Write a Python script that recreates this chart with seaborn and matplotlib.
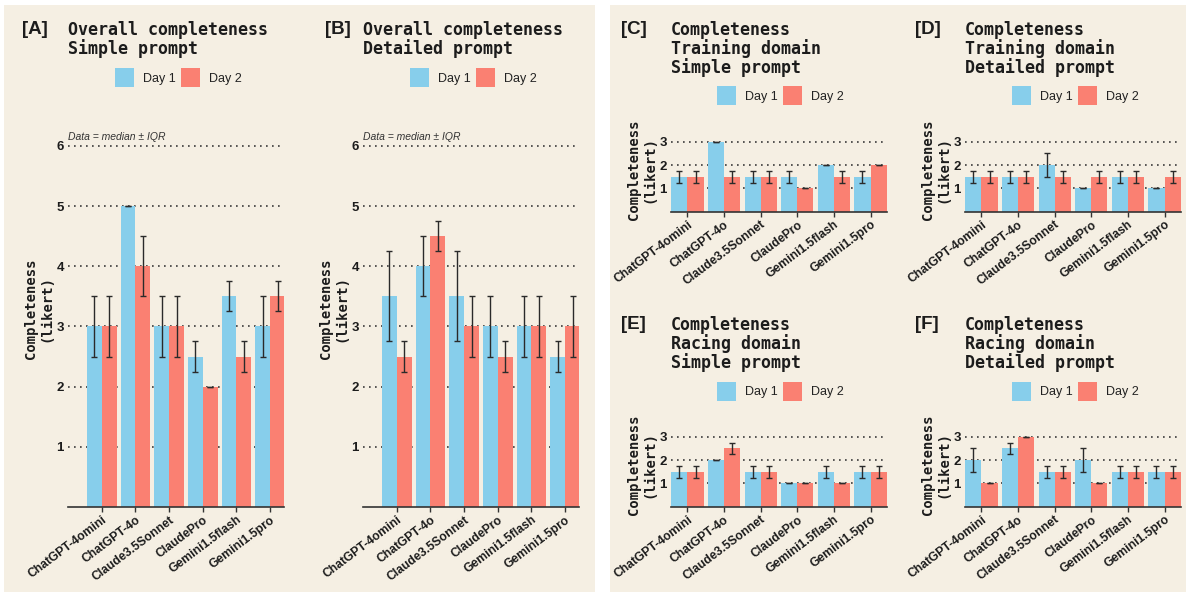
import matplotlib
matplotlib.use("Agg")
import matplotlib.pyplot as plt
from matplotlib.patches import Rectangle
import pandas as pd
import seaborn as sns

# ---- data: median and half-IQR per model, per day ----
models = ["ChatGPT-4omini", "ChatGPT-4o", "Claude3.5Sonnet",
          "ClaudePro", "Gemini1.5flash", "Gemini1.5pro"]
days = ["Day 1", "Day 2"]

a_day1 = [3, 5, 3, 2.5, 3.5, 3]
a_day1_err = [0.5, 0, 0.5, 0.25, 0.25, 0.5]
a_day2 = [3, 4, 3, 2, 2.5, 3.5]
a_day2_err = [0.5, 0.5, 0.5, 0, 0.25, 0.25]

b_day1 = [3.5, 4, 3.5, 3, 3, 2.5]
b_day1_err = [0.75, 0.5, 0.75, 0.5, 0.5, 0.25]
b_day2 = [2.5, 4.5, 3, 2.5, 3, 3]
b_day2_err = [0.25, 0.25, 0.5, 0.25, 0.5, 0.5]

c_day1 = [1.5, 3, 1.5, 1.5, 2, 1.5]
c_day1_err = [0.25, 0, 0.25, 0.25, 0, 0.25]
c_day2 = [1.5, 1.5, 1.5, 1, 1.5, 2]
c_day2_err = [0.25, 0.25, 0.25, 0, 0.25, 0]

d_day1 = [1.5, 1.5, 2, 1, 1.5, 1]
d_day1_err = [0.25, 0.25, 0.5, 0, 0.25, 0]
d_day2 = [1.5, 1.5, 1.5, 1.5, 1.5, 1.5]
d_day2_err = [0.25, 0.25, 0.25, 0.25, 0.25, 0.25]

e_day1 = [1.5, 2, 1.5, 1, 1.5, 1.5]
e_day1_err = [0.25, 0, 0.25, 0, 0.25, 0.25]
e_day2 = [1.5, 2.5, 1.5, 1, 1, 1.5]
e_day2_err = [0.25, 0.25, 0.25, 0, 0, 0.25]

f_day1 = [2, 2.5, 1.5, 2, 1.5, 1.5]
f_day1_err = [0.5, 0.25, 0.25, 0.5, 0.25, 0.25]
f_day2 = [1, 3, 1.5, 1, 1.5, 1.5]
f_day2_err = [0, 0, 0.25, 0, 0.25, 0.25]

BLUE = "#87CEEB"
RED = "#FA8072"
BG = "#F5EFE3"
INK = "#1c1c1c"
MONO = "DejaVu Sans Mono"
SANS = "Liberation Sans"

W, H = 1189, 592
fig = plt.figure(figsize=(W / 100, H / 100), dpi=100, facecolor="white")


def px_rect(x0, y0, x1, y1):
    """Figure-fraction rectangle from pixel corners (origin at top-left)."""
    return [x0 / W, (H - y1) / H, (x1 - x0) / W, (y1 - y0) / H]


# two beige backing cards
for x0, x1 in [(4, 595), (610, 1186)]:
    r = px_rect(x0, 5, x1, 592)
    fig.add_artist(Rectangle((r[0], r[1]), r[2], r[3], transform=fig.transFigure,
                             facecolor=BG, edgecolor="none", zorder=-5))


def panel(rect, day1, day1_err, day2, day2_err, xlim, ytop, yticks, note=False):
    ax = fig.add_axes(rect)
    ax.set_facecolor("none")
    df = pd.DataFrame({
        "model": models * 2,
        "day": [days[0]] * len(models) + [days[1]] * len(models),
        "score": day1 + day2,
    })
    sns.barplot(data=df, x="model", y="score", hue="day", order=models,
                hue_order=days, palette=[BLUE, RED], saturation=1,
                width=0.88, gap=0, errorbar=None, legend=False, ax=ax, zorder=2)
    for cont, err in zip(ax.containers, [day1_err, day2_err]):
        xs = [p.get_x() + p.get_width() / 2 for p in cont]
        ys = [p.get_height() for p in cont]
        ax.errorbar(xs, ys, yerr=err, fmt="none", ecolor="#2a2a2a",
                    elinewidth=1.0, capsize=2.3, capthick=1.0, zorder=3)
    ax.set_xlim(*xlim)
    ax.set_ylim(0, ytop)
    ax.set_yticks(yticks)
    ax.set_yticklabels([str(t) for t in yticks], fontweight="bold",
                       fontsize=9.5, family=SANS, color=INK)
    ax.yaxis.grid(True, linestyle=(0, (1, 2.6)), color="#3a3a3a", linewidth=1.2)
    ax.xaxis.grid(False)
    ax.set_axisbelow(True)
    for s in ["top", "right", "left"]:
        ax.spines[s].set_visible(False)
    ax.spines["bottom"].set_color("#333333")
    ax.spines["bottom"].set_linewidth(1.2)
    ax.tick_params(axis="y", length=0, pad=3)
    ax.tick_params(axis="x", length=3.5, width=1, color="#333333", pad=1.5)
    ax.set_xticks(range(len(models)))
    ax.set_xticklabels(models, rotation=37, ha="right", rotation_mode="anchor",
                       fontweight="bold", fontsize=8.7, family=SANS, color=INK)
    ax.set_xlabel("")
    ax.set_ylabel("Completeness\n(likert)", family=MONO, fontweight="bold",
                  fontsize=10, linespacing=1.1, labelpad=2, color=INK)
    if note:
        ax.text(xlim[0], 6.06, "Data = median \u00b1 IQR", fontsize=7.5,
                style="italic", family=SANS, color="#333333",
                ha="left", va="bottom")
    return ax


def heading(letter, lines, x_letter, x_title, y_top):
    fig.text(x_letter / W, 1 - y_top / H, letter, family=SANS, fontweight="bold",
             fontsize=13.5, color=INK, ha="left", va="top")
    fig.text(x_title / W, 1 - y_top / H, lines, family=MONO, fontweight="bold",
             fontsize=12, color=INK, ha="left", va="top", linespacing=0.99)


def key(x0, y0):
    """Day 1 / Day 2 colour key; x0,y0 = top-left of first swatch in pixels."""
    size = 19
    spots = [(x0, BLUE, days[0]), (x0 + 66, RED, days[1])]
    for sx, col, lab in spots:
        r = px_rect(sx, y0, sx + size, y0 + size)
        fig.add_artist(Rectangle((r[0], r[1]), r[2], r[3], transform=fig.transFigure,
                                 facecolor=col, edgecolor="none", zorder=2))
        fig.text((sx + size + 9) / W, 1 - (y0 + size / 2) / H, lab, family=SANS,
                 fontsize=9, color="#222222", ha="left", va="center_baseline")


big_xlim = (-1.0, 5.41)
small_xlim = (-0.45, 5.45)

panel(px_rect(68, 111, 284, 507), a_day1, a_day1_err, a_day2, a_day2_err,
      big_xlim, 6.58, [1, 2, 3, 4, 5, 6], note=True)
panel(px_rect(363, 111, 579, 507), b_day1, b_day1_err, b_day2, b_day2_err,
      big_xlim, 6.58, [1, 2, 3, 4, 5, 6], note=True)
panel(px_rect(671, 127.7, 887, 211.7), c_day1, c_day1_err, c_day2, c_day2_err,
      small_xlim, 3.6, [1, 2, 3])
panel(px_rect(965, 127.7, 1181, 211.7), d_day1, d_day1_err, d_day2, d_day2_err,
      small_xlim, 3.6, [1, 2, 3])
panel(px_rect(671, 422.7, 887, 506.7), e_day1, e_day1_err, e_day2, e_day2_err,
      small_xlim, 3.6, [1, 2, 3])
panel(px_rect(965, 422.7, 1181, 506.7), f_day1, f_day1_err, f_day2, f_day2_err,
      small_xlim, 3.6, [1, 2, 3])

heading("[A]", "Overall completeness\nSimple prompt", 22, 68, 21)
heading("[B]", "Overall completeness\nDetailed prompt", 325, 363, 21)
heading("[C]", "Completeness\nTraining domain\nSimple prompt", 621, 671, 21)
heading("[D]", "Completeness\nTraining domain\nDetailed prompt", 915, 965, 21)
heading("[E]", "Completeness\nRacing domain\nSimple prompt", 621, 671, 316)
heading("[F]", "Completeness\nRacing domain\nDetailed prompt", 915, 965, 316)

key(115, 68)
key(410, 68)
key(717, 86)
key(1012, 86)
key(717, 381.5)
key(1012, 381.5)

fig.savefig("out.png", dpi=100, facecolor="white")
